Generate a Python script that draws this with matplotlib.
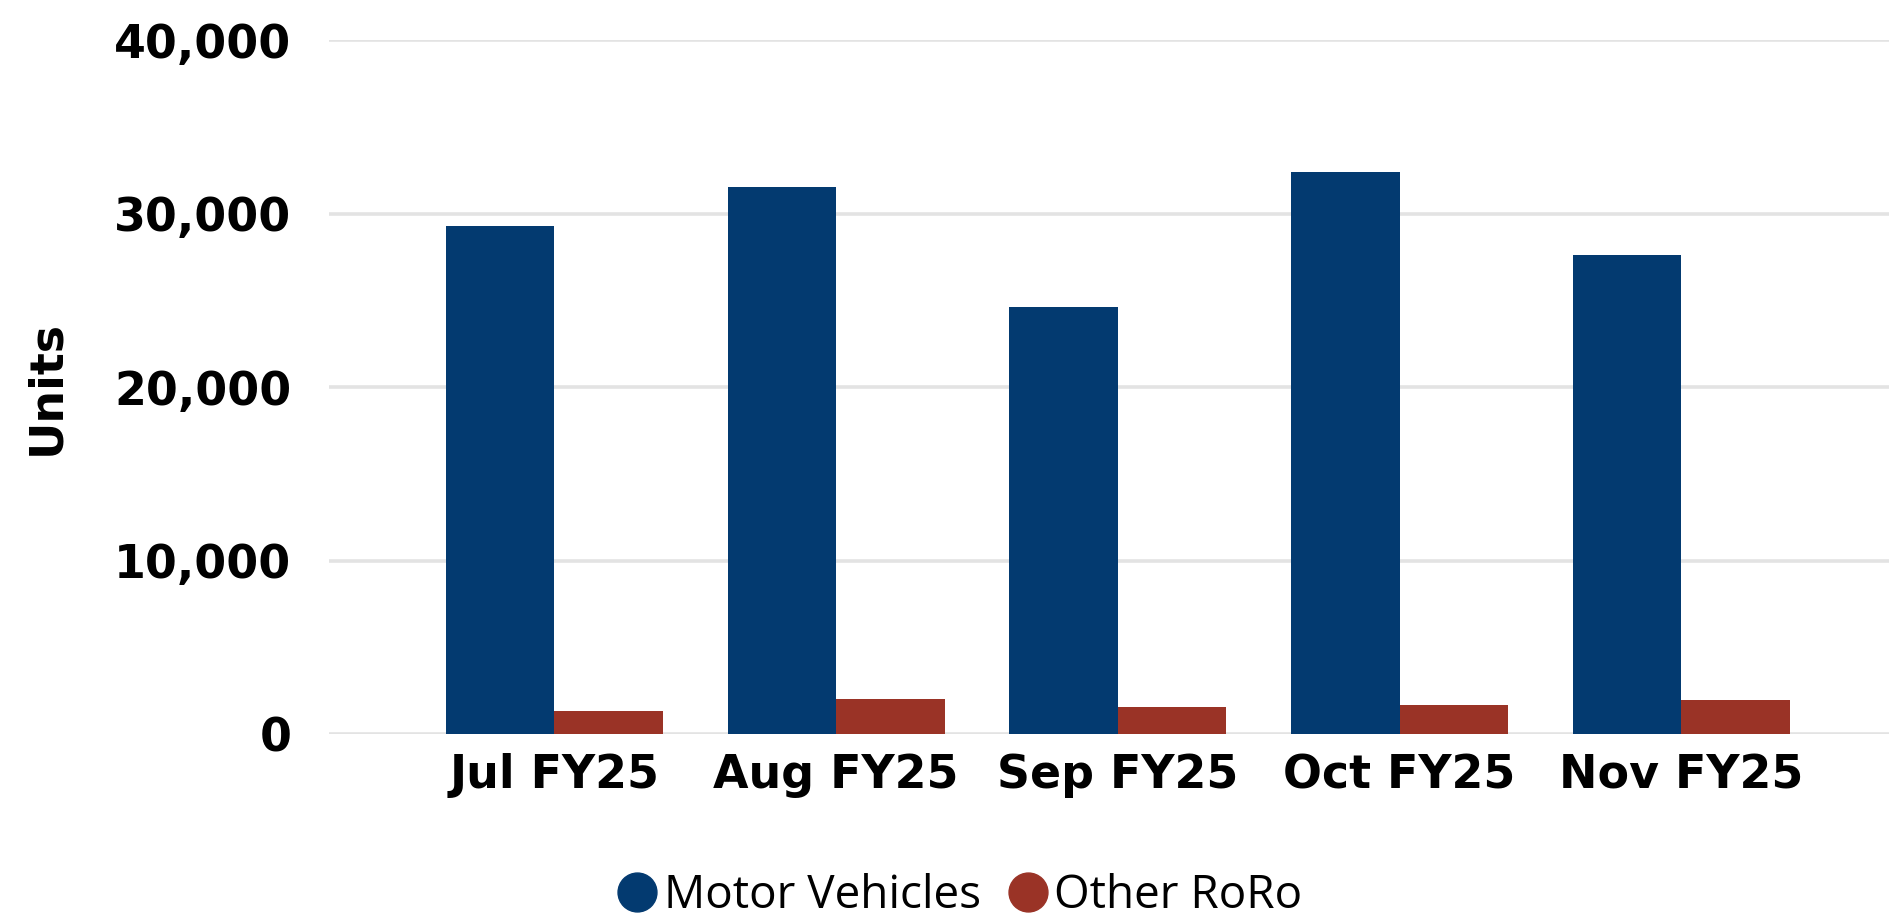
import numpy as np
import matplotlib
matplotlib.use("Agg")
import matplotlib.pyplot as plt
from matplotlib.lines import Line2D

# data
months = ["Jul FY25", "Aug FY25", "Sep FY25", "Oct FY25", "Nov FY25"]
motor_vehicles = [29300, 31500, 24600, 32400, 27600]
other_roro = [1300, 2000, 1550, 1650, 1950]
y_ticks = [0, 10000, 20000, 30000, 40000]

blue = "#033A70"
red = "#9A3326"

fig = plt.figure(figsize=(18.9, 9.22), dpi=100)
ax = fig.add_axes([0.174, 0.2039, 0.826, 0.7527])

x = np.arange(len(months))
w = 0.385
ax.bar(x - w / 2, motor_vehicles, w, color=blue, zorder=3)
ax.bar(x + w / 2, other_roro, w, color=red, zorder=3)

ax.set_xlim(-0.80, 4.74)
ax.set_ylim(0, 40000)
ax.set_yticks(y_ticks)
ax.set_yticklabels([f"{v:,}" for v in y_ticks])
ax.set_xticks(x)
ax.set_xticklabels(months)

for lbl in ax.get_xticklabels() + ax.get_yticklabels():
    lbl.set_fontsize(33)
    lbl.set_fontweight("bold")
ax.tick_params(axis="both", length=0)
ax.tick_params(axis="x", pad=14)
ax.tick_params(axis="y", pad=27)

ax.grid(axis="y", color="#E3E3E3", linewidth=2.6, zorder=0)
ax.set_axisbelow(True)
for s in ax.spines.values():
    s.set_visible(False)

ax.set_ylabel("Units", fontsize=33, fontweight="bold")
ax.yaxis.set_label_coords(-0.166, 0.5)

handles = [
    Line2D([], [], linestyle="none", marker="o", markersize=28, color=blue),
    Line2D([], [], linestyle="none", marker="o", markersize=28, color=red),
]
fig.legend(handles, ["Motor Vehicles", "Other RoRo"], loc="center",
           bbox_to_anchor=(0.508, 0.028), ncol=2, frameon=False,
           prop={"family": "Open Sans", "size": 33},
           handlelength=0.85, handletextpad=0.15, columnspacing=0.6,
           borderpad=0, borderaxespad=0)

fig.savefig("out.png", dpi=100)
